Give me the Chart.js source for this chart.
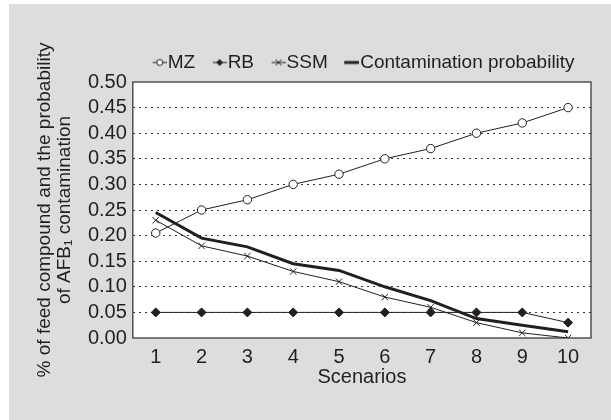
<!DOCTYPE html>
<html>
<head>
<meta charset="utf-8">
<script src="https://cdn.jsdelivr.net/npm/chart.js@4/dist/chart.umd.min.js"></script>
<style>
  html, body { margin: 0; padding: 0; background: #ffffff; }
  #wrap { position: absolute; left: 9px; top: 4px; width: 602px; height: 416px; background: #dcdddf; }
  canvas { display: block; }
</style>
</head>
<body>
<div id="wrap"><canvas id="c" width="602" height="416"></canvas></div>
<script>
const scenarios = ['1', '2', '3', '4', '5', '6', '7', '8', '9', '10'];
const mzValues = [0.205, 0.25, 0.27, 0.30, 0.32, 0.35, 0.37, 0.40, 0.42, 0.45];
const rbValues = [0.05, 0.05, 0.05, 0.05, 0.05, 0.05, 0.05, 0.05, 0.05, 0.03];
const ssmValues = [0.23, 0.18, 0.16, 0.13, 0.11, 0.08, 0.06, 0.03, 0.01, 0.0];
const contaminationValues = [0.245, 0.195, 0.178, 0.145, 0.132, 0.10, 0.073, 0.038, 0.025, 0.012];
const seriesNames = ['MZ', 'RB', 'SSM', 'Contamination probability'];
const yTitle = ['% of feed compound and the probability', 'of AFB\u2081 contamination'];
const xTitle = 'Scenarios';

const INK = '#231f20';
const FONT = "'Liberation Sans', Arial, sans-serif";

// Legend marker images (short line with the series marker)
function legendMarker(kind) {
  const c = document.createElement('canvas');
  c.width = 26; c.height = 12;
  const g = c.getContext('2d');
  g.strokeStyle = INK; g.fillStyle = INK;
  const cy = 6, x0 = 12, x1 = 26, cx = 19;
  if (kind === 'line') {
    g.lineWidth = 3;
    g.beginPath(); g.moveTo(x0 - 1, cy); g.lineTo(x1, cy); g.stroke();
    return c;
  }
  g.lineWidth = 1;
  g.beginPath(); g.moveTo(x0, cy); g.lineTo(x1, cy); g.stroke();
  if (kind === 'circle') {
    g.fillStyle = '#ffffff';
    g.beginPath(); g.arc(cx, cy, 3, 0, Math.PI * 2); g.fill(); g.stroke();
  } else if (kind === 'diamond') {
    g.beginPath(); g.moveTo(cx, cy - 3.5); g.lineTo(cx + 3.5, cy); g.lineTo(cx, cy + 3.5); g.lineTo(cx - 3.5, cy); g.closePath(); g.fill();
  } else if (kind === 'cross') {
    g.beginPath();
    g.moveTo(cx - 3, cy - 3); g.lineTo(cx + 3, cy + 3);
    g.moveTo(cx + 3, cy - 3); g.lineTo(cx - 3, cy + 3);
    g.stroke();
  }
  return c;
}
const legendImgs = [legendMarker('circle'), legendMarker('diamond'), legendMarker('cross'), legendMarker('line')];

const plotFrame = {
  id: 'plotFrame',
  afterLayout(chart) {
    // centre the legend over the plot area instead of the whole canvas
    const a = chart.chartArea, lg = chart.legend;
    if (lg) {
      const c = (a.left + a.right) / 2;
      const half = Math.min(c, chart.width - c);
      lg.left = c - half;
      lg.right = c + half;
    }
  },
  beforeDraw(chart) {
    const a = chart.chartArea, ctx = chart.ctx;
    ctx.save();
    ctx.fillStyle = '#ffffff';
    ctx.fillRect(a.left, a.top, a.right - a.left, a.bottom - a.top);
    ctx.restore();
  },
  beforeDatasetsDraw(chart) {
    const a = chart.chartArea, ctx = chart.ctx;
    ctx.save();
    ctx.strokeStyle = '#3a3a3a';
    ctx.lineWidth = 1.3;
    ctx.strokeRect(a.left, a.top, a.right - a.left, a.bottom - a.top);
    ctx.restore();
  }
};

new Chart(document.getElementById('c'), {
  type: 'line',
  data: {
    labels: scenarios,
    datasets: [
      { label: seriesNames[0], data: mzValues, borderColor: INK, borderWidth: 1, pointStyle: 'circle', pointRadius: 4.2, pointBackgroundColor: '#ffffff', pointBorderColor: INK, pointBorderWidth: 1, tension: 0 },
      { label: seriesNames[1], data: rbValues, borderColor: INK, borderWidth: 1, pointStyle: 'rectRot', pointRadius: 4.5, pointBackgroundColor: INK, pointBorderColor: INK, pointBorderWidth: 1, tension: 0 },
      { label: seriesNames[2], data: ssmValues, borderColor: INK, borderWidth: 1, pointStyle: 'crossRot', pointRadius: 4.5, pointBorderColor: INK, pointBorderWidth: 1, tension: 0 },
      { label: seriesNames[3], data: contaminationValues, borderColor: INK, borderWidth: 3, pointRadius: 0, tension: 0 }
    ]
  },
  options: {
    responsive: false,
    animation: false,
    devicePixelRatio: 1,
    layout: { padding: { left: 26, right: 20, top: 35, bottom: 33 } },
    plugins: {
      tooltip: { enabled: false },
      legend: {
        position: 'top',
        align: 'center',
        labels: {
          usePointStyle: true,
          boxWidth: 9,
          padding: 14,
          color: INK,
          font: { family: FONT, size: 19 },
          generateLabels(chart) {
            const items = Chart.defaults.plugins.legend.labels.generateLabels(chart);
            items.forEach((it, i) => { it.pointStyle = legendImgs[i]; it.fontColor = INK; });
            return items;
          }
        }
      }
    },
    scales: {
      x: {
        offset: true,
        grid: { display: false, drawTicks: false },
        border: { display: false },
        ticks: { color: INK, padding: 9, font: { family: FONT, size: 20, lineHeight: 1 }, maxRotation: 0, autoSkip: false },
        title: { display: true, text: xTitle, color: INK, font: { family: FONT, size: 20, lineHeight: 1 }, padding: { top: -9, bottom: 0 } }
      },
      y: {
        min: 0,
        max: 0.5,
        grid: {
          drawTicks: false,
          lineWidth: 1,
          color: (ctx) => (ctx.tick && (ctx.tick.value <= 0.0001 || ctx.tick.value >= 0.4999)) ? 'rgba(0,0,0,0)' : '#333333'
        },
        border: { display: false, dash: [2, 4] },
        ticks: {
          stepSize: 0.05,
          autoSkip: false,
          padding: 6,
          color: INK,
          font: { family: FONT, size: 20, lineHeight: 1 },
          callback: (v) => Number(v).toFixed(2)
        },
        title: { display: true, text: yTitle, color: INK, font: { family: FONT, size: 19, lineHeight: 1.05 }, padding: { top: 0, bottom: 7 } }
      }
    }
  },
  plugins: [plotFrame]
});
</script>
</body>
</html>
